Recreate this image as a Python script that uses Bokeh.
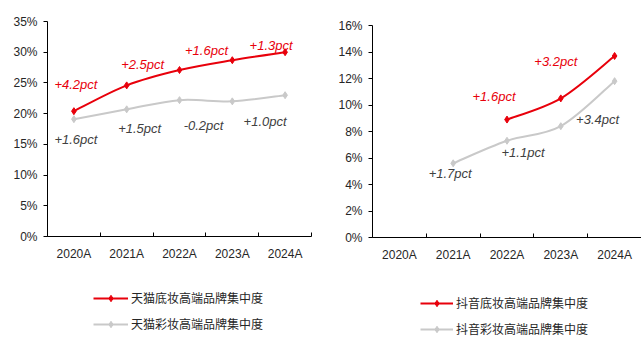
import numpy as np
from bokeh.plotting import figure
from bokeh.layouts import row, column
from bokeh.core.properties import value
from bokeh.models import (FixedTicker, PrintfTickFormatter, Range1d, Legend,
                          LegendItem, ColumnDataSource, LabelSet)
from bokeh.embed import file_html
from bokeh.resources import INLINE

# ---- data -------------------------------------------------------------
years = ["2020A", "2021A", "2022A", "2023A", "2024A"]

tmall_base = [20.4, 24.6, 27.1, 28.7, 30.0]          # 天猫底妆高端品牌集中度 (%)
tmall_color = [19.1, 20.7, 22.2, 22.0, 23.0]         # 天猫彩妆高端品牌集中度 (%)
tmall_base_chg = ["+4.2pct", "+2.5pct", "+1.6pct", "+1.3pct"]
tmall_color_chg = ["+1.6pct", "+1.5pct", "-0.2pct", "+1.0pct"]

douyin_base = [None, None, 8.9, 10.5, 13.7]          # 抖音底妆高端品牌集中度 (%)
douyin_color = [None, 5.6, 7.3, 8.4, 11.8]           # 抖音彩妆高端品牌集中度 (%)
douyin_base_chg = ["+1.6pct", "+3.2pct"]
douyin_color_chg = ["+1.7pct", "+1.1pct", "+3.4pct"]

RED = "#E8000B"
GREY = "#C9C9C9"
TXT = "#262626"
GREY_TXT = "#404040"
FONT = "Liberation Sans"
CJK = "Noto Sans CJK SC"

CHART_H = 266      # chart part of each panel
LEGEND_H = 338 - CHART_H


def smooth_beziers(xs, ys):
    """Cubic Bezier pieces for a smoothed line through the points."""
    xs = np.asarray(xs, float)
    ys = np.asarray(ys, float)
    n = len(xs)
    out = {k: [] for k in ("x0", "y0", "x1", "y1", "cx0", "cy0", "cx1", "cy1")}
    for i in range(n - 1):
        p0 = max(i - 1, 0)
        p3 = min(i + 2, n - 1)
        out["x0"].append(xs[i]); out["y0"].append(ys[i])
        out["x1"].append(xs[i + 1]); out["y1"].append(ys[i + 1])
        out["cx0"].append(xs[i] + (xs[i + 1] - xs[p0]) / 6)
        out["cy0"].append(ys[i] + (ys[i + 1] - ys[p0]) / 6)
        out["cx1"].append(xs[i + 1] - (xs[p3] - xs[i]) / 6)
        out["cy1"].append(ys[i + 1] - (ys[p3] - ys[i]) / 6)
    return out


def series_xy(vals):
    xs = [i + 0.5 for i, v in enumerate(vals) if v is not None]
    ys = [v for v in vals if v is not None]
    return xs, ys


def make_panel(width, left, top, right, zero_y, ymax, ystep):
    p = figure(width=width, height=CHART_H, output_backend="svg",
               toolbar_location=None, x_range=Range1d(0, len(years)),
               y_range=Range1d(0, ymax), min_border_left=left,
               min_border_right=right, min_border_top=top,
               min_border_bottom=CHART_H - zero_y, outline_line_color=None,
               background_fill_color="white", border_fill_color="white")
    p.grid.visible = False

    xa = p.xaxis[0]
    xa.ticker = FixedTicker(ticks=[i + 0.5 for i in range(len(years))],
                            minor_ticks=list(range(len(years) + 1)))
    xa.major_label_overrides = {i + 0.5: y for i, y in enumerate(years)}
    xa.major_tick_in = 0
    xa.major_tick_out = 0
    xa.minor_tick_in = 4
    xa.minor_tick_out = 0
    xa.minor_tick_line_color = "black"
    xa.axis_line_color = "black"
    xa.axis_line_width = 1.2
    xa.major_label_text_font = FONT
    xa.major_label_text_font_size = "12px"
    xa.major_label_text_color = TXT
    xa.major_label_standoff = 10

    ya = p.yaxis[0]
    ya.ticker = FixedTicker(ticks=list(np.arange(0, ymax + 0.001, ystep)))
    ya.formatter = PrintfTickFormatter(format="%d%%")
    ya.major_tick_in = 0
    ya.major_tick_out = 4
    ya.minor_tick_line_color = None
    ya.axis_line_color = "black"
    ya.major_tick_line_color = "black"
    ya.major_label_text_font = FONT
    ya.major_label_text_font_size = "12px"
    ya.major_label_text_color = TXT
    ya.major_label_standoff = 6
    return p


def draw_series(p, vals, color, width):
    xs, ys = series_xy(vals)
    b = smooth_beziers(xs, ys)
    p.bezier(source=ColumnDataSource(b), x0="x0", y0="y0", x1="x1", y1="y1",
             cx0="cx0", cy0="cy0", cx1="cx1", cy1="cy1",
             line_color=color, line_width=width)
    p.scatter(xs, ys, marker="diamond", size=7, fill_color=color,
              line_color=color)


def add_labels(p, vals, texts, anchors, offsets, color):
    xs = [anchors[i] + 0.5 for i in range(len(texts))]
    ys = [vals[anchors[i]] for i in range(len(texts))]
    src = ColumnDataSource(dict(x=xs, y=ys, t=texts,
                                dx=[o[0] for o in offsets],
                                dy=[-o[1] for o in offsets]))
    p.add_layout(LabelSet(x="x", y="y", text="t", source=src,
                          x_offset="dx", y_offset="dy",
                          text_align="center", text_baseline="middle",
                          text_font=value(FONT), text_font_size="13px",
                          text_font_style="italic", text_color=color))


def legend_strip(width, labels, series, colors, x, top_row, spacing, glyph_w):
    """A strip under a chart that carries its series key.

    The series are plotted again here only so that the legend has glyphs to
    sample; the strip's y range sits below all of their values, so nothing
    but the key is visible.
    """
    q = figure(width=width, height=LEGEND_H, output_backend="svg",
               toolbar_location=None, x_range=Range1d(0, len(years)),
               y_range=Range1d(-2, -1), x_axis_location=None,
               y_axis_location=None, min_border=0, outline_line_color=None,
               border_fill_color="white", background_fill_color="white")
    q.grid.visible = False
    items = []
    for lab, vals, col in zip(labels, series, colors):
        xs, ys = series_xy(vals)
        ln = q.line(xs, ys, line_color=col, line_width=2)
        mk = q.scatter(xs, ys, marker="diamond", size=6, fill_color=col,
                       line_color=col)
        items.append(LegendItem(label=lab, renderers=[ln, mk]))
    row_h = 16
    total = len(items) * row_h + (len(items) - 1) * spacing
    lg = Legend(items=items, location=(x, LEGEND_H - top_row - total),
                orientation="vertical", padding=0, margin=0, spacing=spacing,
                glyph_width=glyph_w, glyph_height=row_h, label_height=row_h,
                label_standoff=3, label_text_font=CJK,
                label_text_font_size="12px", label_text_color=TXT,
                border_line_color=None, background_fill_alpha=0)
    q.add_layout(lg, "center")
    return q


# ---- left: Tmall ------------------------------------------------------
left = make_panel(320, left=47, top=21, right=9, zero_y=236, ymax=35, ystep=5)
draw_series(left, tmall_color, GREY, 2)
draw_series(left, tmall_base, RED, 2)
add_labels(left, tmall_base, tmall_base_chg, [0, 1, 2, 4],
           [(2, -27), (16, -21), (27, -20), (-14, -7)], RED)
add_labels(left, tmall_color, tmall_color_chg, [0, 1, 2, 4],
           [(2, 20), (13, 19), (24, 25), (-20, 26)], GREY_TXT)
# the key strip's frame lines up with the chart frame above it
left_key = legend_strip(320, ["天猫底妆高端品牌集中度", "天猫彩妆高端品牌集中度"],
                        [tmall_base, tmall_color], [RED, GREY],
                        x=46, top_row=291 - CHART_H, spacing=9, glyph_w=35)

# ---- right: Douyin ----------------------------------------------------
right = make_panel(321, left=52, top=25, right=0, zero_y=237, ymax=16, ystep=2)
draw_series(right, douyin_color, GREY, 2)
draw_series(right, douyin_base, RED, 2)
add_labels(right, douyin_base, douyin_base_chg, [2, 3],
           [(-13, -23), (-5, -37)], RED)
add_labels(right, douyin_color, douyin_color_chg, [1, 2, 4],
           [(-3, 10), (16, 12), (-17, 38)], GREY_TXT)
right_key = legend_strip(321, ["抖音底妆高端品牌集中度", "抖音彩妆高端品牌集中度"],
                         [douyin_base, douyin_color], [RED, GREY],
                         x=48, top_row=296 - CHART_H, spacing=9, glyph_w=33)

layout = row(column(left, left_key, spacing=0),
             column(right, right_key, spacing=0), spacing=0)
open("out.html", "w").write(file_html(layout, INLINE))
